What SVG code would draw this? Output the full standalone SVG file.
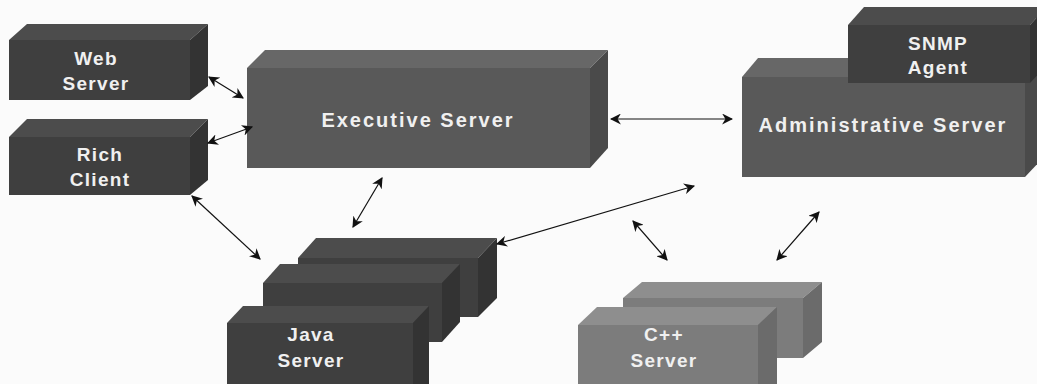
<svg xmlns="http://www.w3.org/2000/svg" width="1037" height="384" viewBox="0 0 1037 384">
  <style>
    .lbl { font-family: "Liberation Sans", Arial, sans-serif; font-weight: bold; fill: #f0f0f0; text-anchor: middle; }
    .sm { font-size: 19px; letter-spacing: 1.3px; }
    .lg { font-size: 20px; letter-spacing: 2px; }
    .dk .front { fill: #3f3f3f; } .dk .top { fill: #4c4c4c; } .dk .side { fill: #333333; }
    .md .front { fill: #595959; } .md .top { fill: #676767; } .md .side { fill: #4a4a4a; }
    .lt .front { fill: #7c7c7c; } .lt .top { fill: #8e8e8e; } .lt .side { fill: #6b6b6b; }
    .conn line { stroke: #111; stroke-width: 1.2; marker-start: url(#head); marker-end: url(#head); }
  </style>
  <defs>
    <marker id="head" viewBox="0 0 10 10" refX="9" refY="5" markerWidth="11" markerHeight="11" markerUnits="userSpaceOnUse" orient="auto-start-reverse">
      <path d="M0,0 L10,5 L0,10 L3,5 Z" fill="#111"/>
    </marker>
  </defs>
  <rect width="1037" height="384" fill="#fbfbfb"/>

  <g id="web-server" class="dk">
    <polygon class="top" points="9,40 27,24 208,24 190,40"/>
    <polygon class="side" points="190,40 208,24 208,86 190,100"/>
    <rect class="front" x="9" y="40" width="181" height="60"/>
    <text class="lbl sm" x="96" y="65">Web</text>
    <text class="lbl sm" x="96" y="90">Server</text>
  </g>

  <g id="rich-client" class="dk">
    <polygon class="top" points="9,137 27,119 208,119 190,137"/>
    <polygon class="side" points="190,137 208,119 208,180 190,195"/>
    <rect class="front" x="9" y="137" width="181" height="58"/>
    <text class="lbl sm" x="100" y="161">Rich</text>
    <text class="lbl sm" x="100" y="186">Client</text>
  </g>

  <g id="executive-server" class="md">
    <polygon class="top" points="247,68 265,50 608,50 590,68"/>
    <polygon class="side" points="590,68 608,50 608,148 590,168"/>
    <rect class="front" x="247" y="68" width="343" height="100"/>
    <text class="lbl lg" x="418" y="127">Executive Server</text>
  </g>

  <g id="administrative-server" class="md">
    <polygon class="top" points="742,77 758,58 1043,58 1025,77"/>
    <polygon class="side" points="1025,77 1043,58 1043,158 1025,177"/>
    <rect class="front" x="742" y="77" width="283" height="100"/>
    <text class="lbl lg" x="883" y="132">Administrative Server</text>
  </g>

  <g id="snmp-agent" class="dk">
    <polygon class="top" points="848,25 864,7 1046,7 1030,25"/>
    <polygon class="side" points="1030,25 1046,7 1046,66 1030,83"/>
    <rect class="front" x="848" y="25" width="182" height="58"/>
    <text class="lbl sm" x="938" y="50">SNMP</text>
    <text class="lbl sm" x="938" y="74">Agent</text>
  </g>

  <g id="java-server" class="dk">
    <polygon class="top" points="298,258 316,238 497,238 478,258"/>
    <polygon class="side" points="478,258 497,238 497,298 478,317"/>
    <rect class="front" x="298" y="258" width="180" height="59"/>
    <polygon class="top" points="263,283 280,264 460,264 442,283"/>
    <polygon class="side" points="442,283 460,264 460,322 442,342"/>
    <rect class="front" x="263" y="283" width="179" height="59"/>
    <polygon class="top" points="227,323 243,306 429,306 413,323"/>
    <polygon class="side" points="413,323 429,306 429,384 413,384"/>
    <rect class="front" x="227" y="323" width="186" height="61"/>
    <text class="lbl sm" x="311" y="341">Java</text>
    <text class="lbl sm" x="311" y="367">Server</text>
  </g>

  <g id="cpp-server" class="lt">
    <polygon class="top" points="623,298 642,282 822,282 803,298"/>
    <polygon class="side" points="803,298 822,282 822,342 803,358"/>
    <rect class="front" x="623" y="298" width="180" height="60"/>
    <polygon class="top" points="578,325 597,307 777,307 758,325"/>
    <polygon class="side" points="758,325 777,307 777,384 758,384"/>
    <rect class="front" x="578" y="325" width="180" height="59"/>
    <text class="lbl sm" x="664" y="341">C++</text>
    <text class="lbl sm" x="664" y="367">Server</text>
  </g>

  <g id="connectors" class="conn">
    <line x1="209" y1="77" x2="243" y2="98"/>
    <line x1="208" y1="143" x2="252" y2="127"/>
    <line x1="192" y1="196" x2="260" y2="259"/>
    <line x1="382" y1="178" x2="353" y2="227"/>
    <line x1="611" y1="119" x2="732" y2="119"/>
    <line x1="497" y1="244" x2="694" y2="186"/>
    <line x1="633" y1="221" x2="667" y2="260"/>
    <line x1="819" y1="212" x2="777" y2="260"/>
  </g>
</svg>
